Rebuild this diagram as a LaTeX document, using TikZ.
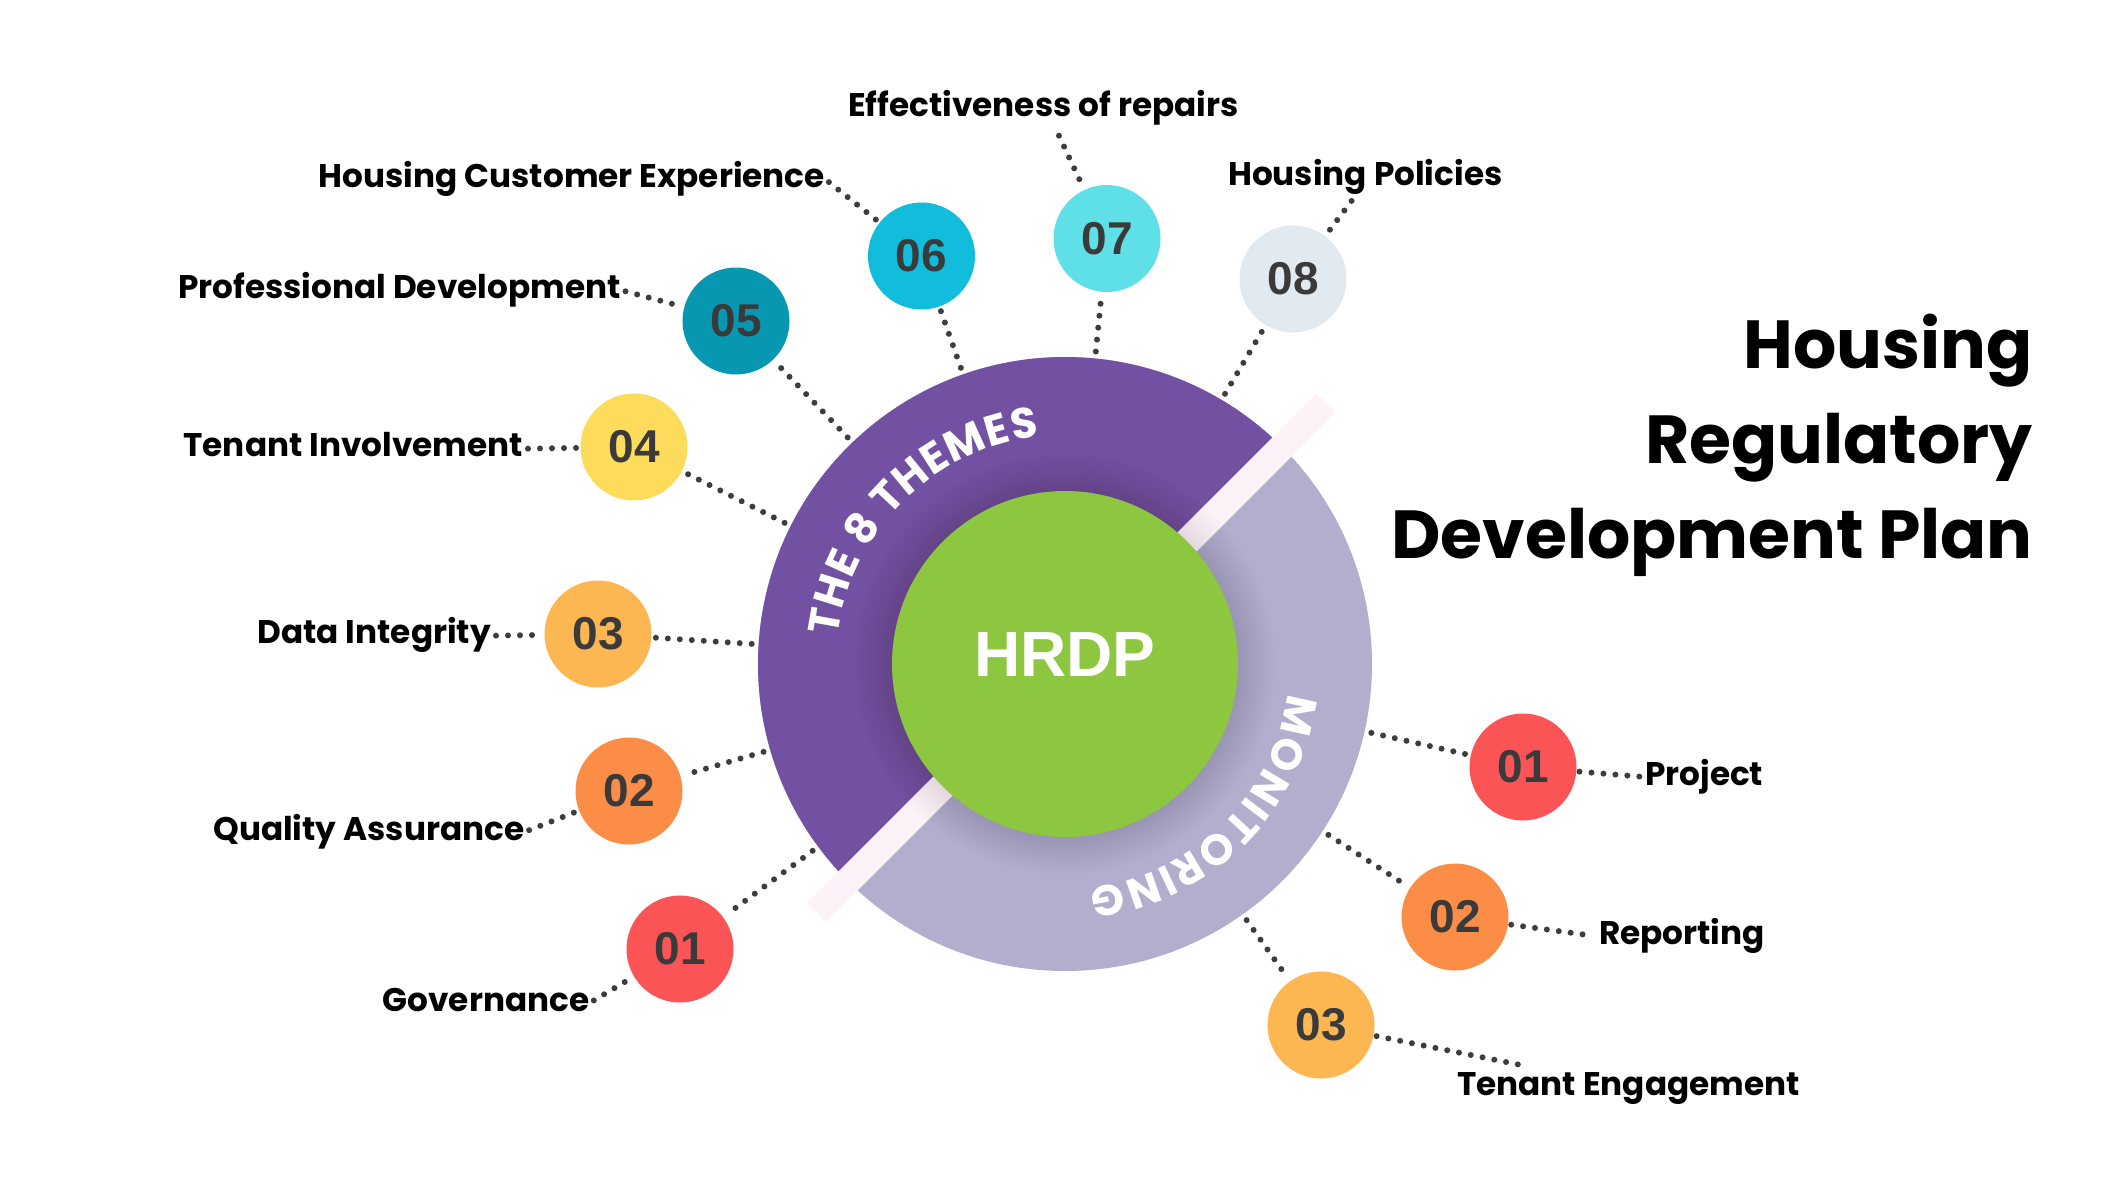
\documentclass[tikz,border=0pt]{standalone}
\usepackage{fontspec}
\setmainfont{Liberation Sans}
\newfontfamily\pop{Poppins}
\newfontfamily\arialf{Liberation Sans}
\usetikzlibrary{calc,decorations.text}
\definecolor{purp}{HTML}{7250A2}
\definecolor{lav}{HTML}{B4AECE}
\definecolor{grn}{HTML}{8DC63F}
\definecolor{strp}{HTML}{FDF2F8}
\definecolor{cred}{HTML}{FA5457}
\definecolor{corange}{HTML}{FB8D47}
\definecolor{cyorange}{HTML}{FDB752}
\definecolor{cyellow}{HTML}{FDDC5C}
\definecolor{cteal}{HTML}{0797B1}
\definecolor{ccyan}{HTML}{12BDDC}
\definecolor{clcyan}{HTML}{5EE0E6}
\definecolor{cpale}{HTML}{E1E9F1}
\definecolor{dotc}{HTML}{3D3D3D}
\definecolor{numc}{HTML}{3A3A3A}
\begin{document}
\begin{tikzpicture}[x=1pt,y=1pt,
  num/.style={circle, minimum size=107pt, inner sep=0pt, fill=#1, text=numc,
    font=\arialf\bfseries\fontsize{46}{46}\selectfont},
  lbl/.style={inner sep=0pt, text height=16pt, text depth=0pt,
    font=\pop\bfseries\fontsize{32.7}{32.7}\selectfont},
  ttl/.style={inner sep=0pt, anchor=base east,
    font=\pop\bfseries\fontsize{68}{68}\selectfont},
  dots/.style={dotc, line width=6pt, line cap=round, dash pattern=on 0pt off 12pt},
  ringtext/.style={decorate, decoration={text along path, text align=fit to path,
    text color=white, text={|\pop\bfseries\fontsize{43}{43}\selectfont|#1}}}
]
\fill[white] (0,0) rectangle (2125,-1195);
\useasboundingbox (0,0) rectangle (2125,-1195);
\coordinate (c) at (1065,-664);
% ring
\fill[lav] (c) circle (307);
\fill[purp] ($(c)+(45:307)$) arc[start angle=45,end angle=225,radius=307] -- cycle;
\fill[strp] ($(c)+(45:369)+(135:13.5)$) -- ($(c)+(45:369)+(-45:13.5)$)
  -- ($(c)+(225:351)+(-45:13.5)$) -- ($(c)+(225:351)+(135:13.5)$) -- cycle;
\foreach \r in {174,177,...,210} \fill[black,opacity=0.006] (c) circle (\r);
\node[circle, fill=grn, minimum size=346pt, inner sep=0pt] (hub) at (c) {};
\node[inner sep=0pt, text=white, font=\arialf\bfseries\fontsize{64}{64}\selectfont] (hrdp) at (1065,-654.5) {HRDP};
% ring texts
\path[ringtext={THE 8 THEMES}] ($(c)+(173:229)$) arc[start angle=173,end angle=96.5,radius=229];
\path[ringtext={MONITORING}] ($(c)+(-7.5:225)$) arc[start angle=-7.5,end angle=-83.7,radius=225];
% theme circles
\node[num=cred] (t1) at (680,-949) {01};
\node[num=corange] (t2) at (629,-791) {02};
\node[num=cyorange] (t3) at (598,-634) {03};
\node[num=cyellow] (t4) at (634,-447) {04};
\node[num=cteal] (t5) at (736,-321) {05};
\node[num=ccyan] (t6) at (921.5,-256) {06};
\node[num=clcyan] (t7) at (1107,-238.5) {07};
\node[num=cpale] (t8) at (1293,-279) {08};
% monitoring circles
\node[num=cred] (m1) at (1523,-767) {01};
\node[num=corange] (m2) at (1455,-917) {02};
\node[num=cyorange] (m3) at (1321,-1025) {03};
% labels
\node[lbl, anchor=base east] (lgov) at (589.5,-1011) {Governance};
\node[lbl, anchor=base east] (lqa) at (524.5,-840) {Quality Assurance};
\node[lbl, anchor=base east] (ldi) at (491,-643.7) {Data Integrity};
\node[lbl, anchor=base east] (lti) at (523,-456.7) {Tenant Involvement};
\node[lbl, anchor=base east] (lpd) at (620.7,-298) {Professional Development};
\node[lbl, anchor=base east] (lhce) at (825,-187) {Housing Customer Experience};
\node[lbl, anchor=base west] (leff) at (848,-116.5) {Effectiveness of repairs};
\node[lbl, anchor=base west] (lhp) at (1228,-185.7) {Housing Policies};
\node[lbl, anchor=base west] (lpr) at (1645,-785) {Project};
\node[lbl, anchor=base west] (lrep) at (1599,-944.6) {Reporting};
\node[lbl, anchor=base west] (lte) at (1457,-1095) {Tenant Engagement};
% title
\node[ttl] (h1) at (2033,-368.6) {Housing};
\node[ttl] (h2) at (2033,-463.5) {Regulatory};
\node[ttl] (h3) at (2033,-558) {Development Plan};
% ring connectors
\foreach \n in {t1,t2,t3,t4,t5,t6,t7,t8,m1,m2,m3}
  \draw[dots, shorten >=4pt] ($(c)!314pt!(\n.center)$) -- (\n);
% label connectors
\draw[dots, shorten <=5pt, shorten >=3pt] (lgov.east) -- (t1);
\draw[dots, shorten <=5pt, shorten >=3pt] (lqa.east) -- (t2);
\draw[dots, shorten <=5pt, shorten >=3pt] (ldi.east) -- (t3);
\draw[dots, shorten <=5pt, shorten >=3pt] (lti.east) -- (t4);
\draw[dots, shorten <=5pt, shorten >=3pt] (lpd.east) -- (t5);
\draw[dots, shorten <=5pt, shorten >=3pt] (lhce.east) -- (t6);
\draw[dots, shorten >=3pt] ($(leff.south west)!0.54!(leff.south east)+(0,-19)$) -- (t7);
\draw[dots, shorten >=3pt] ($(lhp.south west)!0.45!(lhp.south east)+(0,-15)$) -- (t8);
\draw[dots, shorten <=3pt, shorten >=5pt] (m1) -- (lpr.west);
\draw[dots, shorten <=3pt, shorten >=5pt] (m2) -- (lrep.west);
\draw[dots, shorten <=3pt] (m3) -- ($(lte.north west)+(63,14)$);
\end{tikzpicture}
\end{document}
